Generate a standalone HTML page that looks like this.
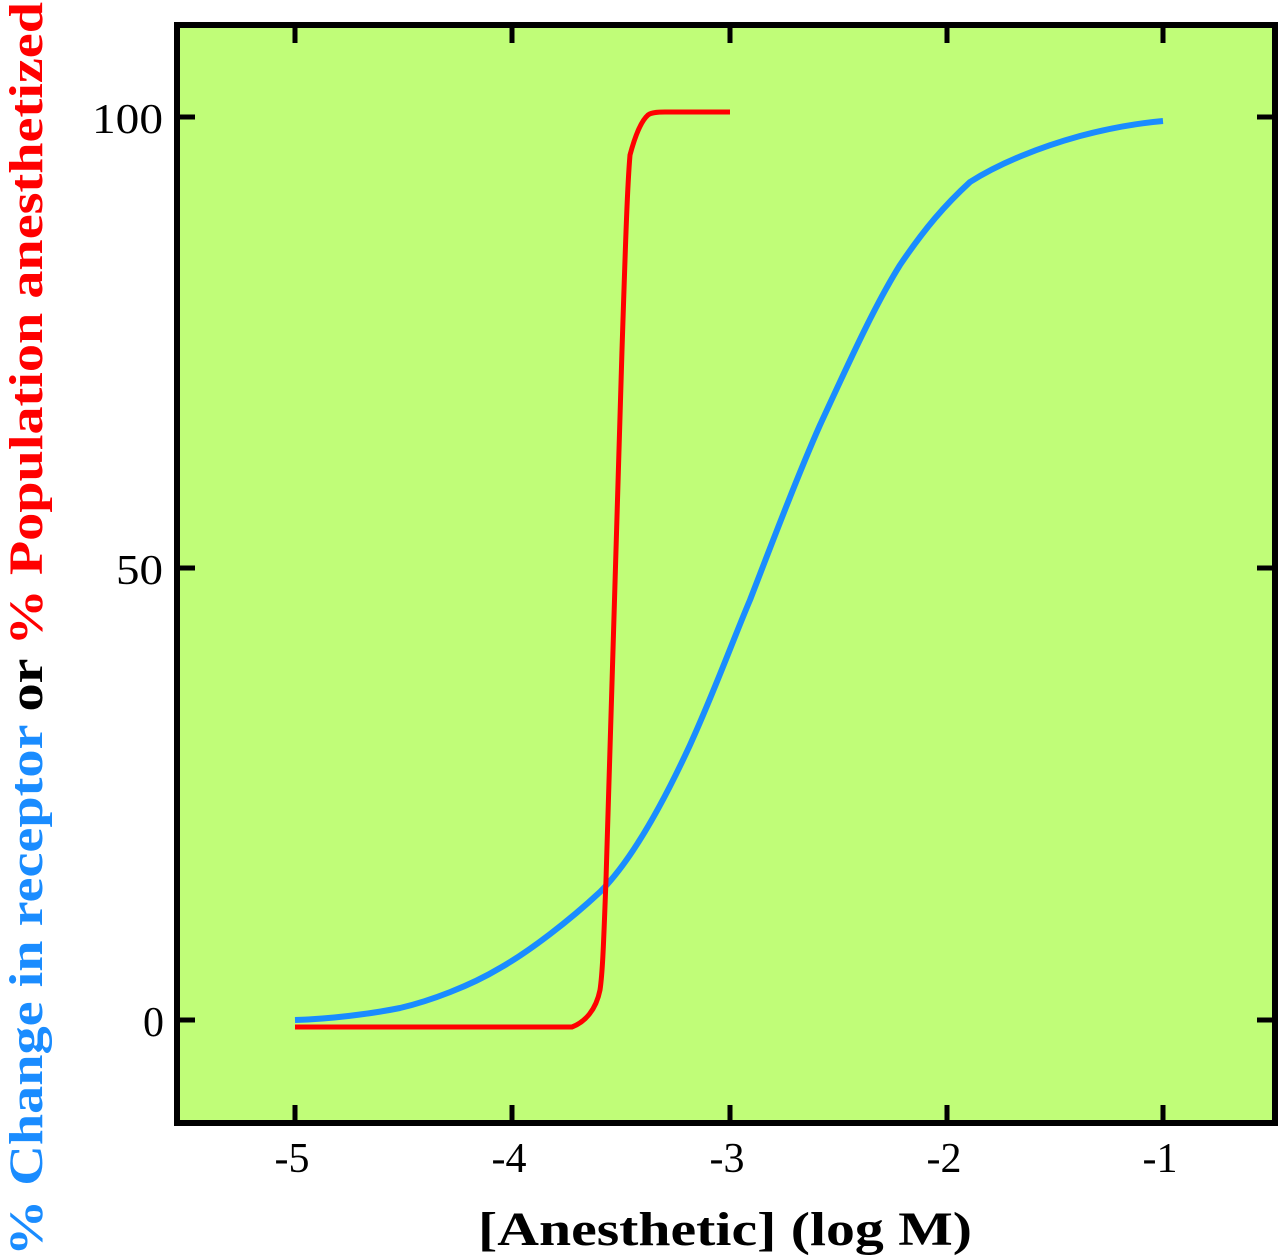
<!DOCTYPE html>
<html><head><style>html,body{margin:0;padding:0;background:#fff;}svg{display:block}</style></head>
<body>
<svg width="1280" height="1259" viewBox="0 0 1280 1259" xmlns="http://www.w3.org/2000/svg">
<rect x="177" y="25" width="1098" height="1098" fill="#c0fd78" stroke="#000" stroke-width="6"/>
<g stroke="#000" stroke-width="5">
<line x1="295" y1="1123" x2="295" y2="1105"/><line x1="512" y1="1123" x2="512" y2="1105"/><line x1="730" y1="1123" x2="730" y2="1105"/><line x1="947" y1="1123" x2="947" y2="1105"/><line x1="1163" y1="1123" x2="1163" y2="1105"/>
<line x1="295" y1="25" x2="295" y2="43"/><line x1="512" y1="25" x2="512" y2="43"/><line x1="730" y1="25" x2="730" y2="43"/><line x1="947" y1="25" x2="947" y2="43"/><line x1="1163" y1="25" x2="1163" y2="43"/>
<line x1="177" y1="117" x2="195" y2="117"/><line x1="177" y1="568" x2="195" y2="568"/><line x1="177" y1="1020" x2="195" y2="1020"/>
<line x1="1275" y1="117" x2="1257" y2="117"/><line x1="1275" y1="568" x2="1257" y2="568"/><line x1="1275" y1="1020" x2="1257" y2="1020"/>
</g>
<g font-family="Liberation Serif, serif" font-size="42" fill="#000">
<text x="92" y="133" textLength="71" lengthAdjust="spacingAndGlyphs">100</text>
<text x="116" y="584" textLength="47" lengthAdjust="spacingAndGlyphs">50</text>
<text x="164" y="1036" text-anchor="end">0</text>
<text x="292" y="1172" text-anchor="middle">-5</text>
<text x="509" y="1172" text-anchor="middle">-4</text>
<text x="727" y="1172" text-anchor="middle">-3</text>
<text x="944" y="1172" text-anchor="middle">-2</text>
<text x="1160" y="1172" text-anchor="middle">-1</text>
</g>
<path d="M295,1020 C330,1019 370,1014 400,1008 C430,1001 470,986 500,968 C530,951 570,920 600,892 C630,862 660,810 690,745 C715,690 735,635 750,600 C775,535 800,470 820,425 C850,360 875,305 900,265 C925,228 945,205 970,182 C1000,163 1040,147 1080,136 C1110,128 1140,123 1163,121" fill="none" stroke="#1a8cff" stroke-width="6"/>
<path d="M295,1027 L572,1027 C585,1022 596,1010 600,990 C603,970 604,930 606,880 L613,650 L622,350 C625,260 627,190 630,155 C634,140 640,122 648,115 C652,112 660,112 665,112 L730,112" fill="none" stroke="#ff0000" stroke-width="5"/>
<text x="478" y="1245" textLength="494" lengthAdjust="spacingAndGlyphs" font-family="Liberation Serif, serif" font-weight="bold" font-size="48">[Anesthetic] (log M)</text>
<text transform="translate(42,1256) rotate(-90)" font-family="Liberation Serif, serif" font-weight="bold" font-size="48" textLength="1254" lengthAdjust="spacingAndGlyphs"><tspan fill="#1a8cff">% Change in receptor </tspan><tspan fill="#000">or </tspan><tspan fill="#ff0000">% Population anesthetized</tspan></text>
</svg>
</body></html>
